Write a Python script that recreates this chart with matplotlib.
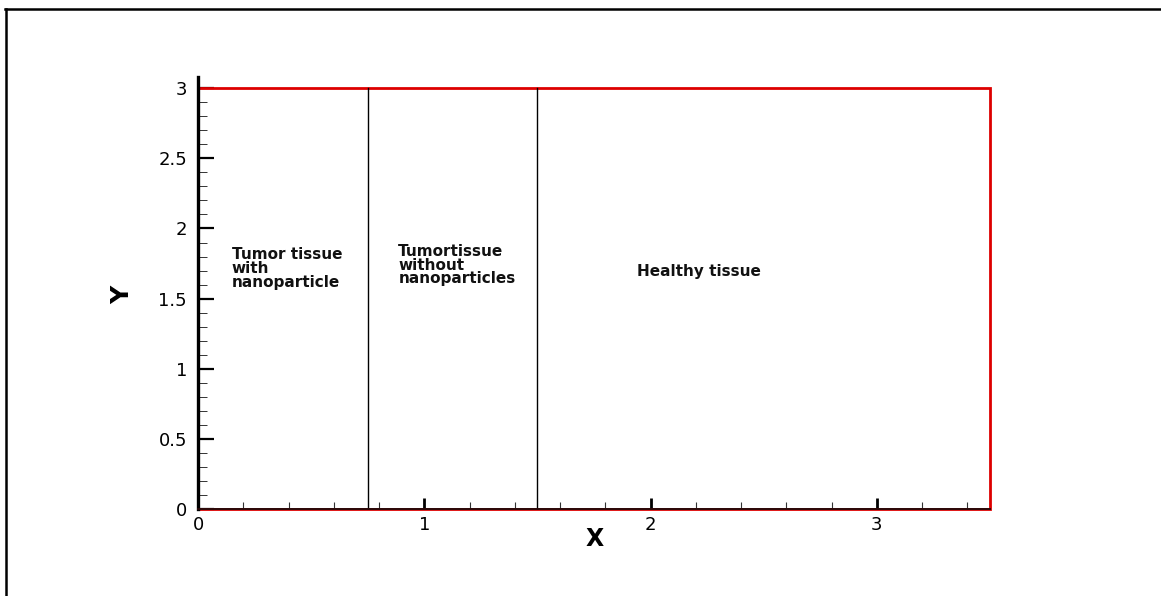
import matplotlib
matplotlib.use("Agg")
import matplotlib.pyplot as plt
from matplotlib.ticker import MultipleLocator, FuncFormatter
from matplotlib.lines import Line2D

# Computational domain outline (tissue block)
domain_x = [0.0, 3.5, 3.5, 0.0, 0.0]
domain_y = [0.0, 0.0, 3.0, 3.0, 0.0]

# Interfaces between tissue regions along x
interface_x = [0.75, 1.5]
interface_y = [0.0, 3.0]

# Region names
region_labels = [
    "Tumor tissue\nwith\nnanoparticle",
    "Tumortissue\nwithout\nnanoparticles",
    "Healthy tissue",
]
region_anchor_x = [0.15, 0.885, 1.94]
region_anchor_y = [1.714, 1.739, 1.69]

x_label = "X"
y_label = "Y"

fig = plt.figure(figsize=(11.61, 5.96), dpi=100)
ax = fig.add_axes([198 / 1161, 87 / 596, (990 - 198) / 1161, (509 - 77) / 596])

ax.set_xlim(0, 3.5)
ax.set_ylim(0, 3.08)

# red boundary of the domain
ax.plot(domain_x, domain_y, color="#dd0000", lw=2.0, clip_on=False, zorder=2,
        solid_joinstyle="miter")

# interface lines
for xi in interface_x:
    ax.plot([xi, xi], interface_y, color="black", lw=1.0, zorder=2)

for txt, tx, ty in zip(region_labels, region_anchor_x, region_anchor_y):
    ax.text(tx, ty, txt, ha="left", va="center", fontsize=11,
            fontweight="bold", family="DejaVu Sans", linespacing=0.9,
            color="#111111")

for side in ("top", "right"):
    ax.spines[side].set_visible(False)
ax.spines["left"].set_linewidth(2.4)
ax.spines["bottom"].set_linewidth(1.4)
ax.spines["bottom"].set_color("#2a0a0a")
ax.spines["left"].set_zorder(3)
ax.spines["bottom"].set_zorder(3)

ax.xaxis.set_major_locator(MultipleLocator(1))
ax.xaxis.set_minor_locator(MultipleLocator(0.2))
ax.yaxis.set_major_locator(MultipleLocator(0.5))
ax.yaxis.set_minor_locator(MultipleLocator(0.1))
fmt = FuncFormatter(lambda v, p: f"{v:g}")
ax.xaxis.set_major_formatter(fmt)
ax.yaxis.set_major_formatter(fmt)

ax.tick_params(axis="y", which="major", direction="in", length=11.5, width=1.6,
               pad=8, labelsize=13, left=True, right=False)
ax.tick_params(axis="y", which="minor", direction="in", length=6.5, width=0.7,
               left=True, right=False, color="#333333")
ax.tick_params(axis="x", which="major", direction="in", length=8, width=2.0,
               pad=5, labelsize=13, bottom=True, top=False)
ax.tick_params(axis="x", which="minor", direction="in", length=5, width=0.8,
               bottom=True, top=False, color="#333333")

ax.text(0.501, -0.069, x_label, transform=ax.transAxes, ha="center", va="center",
        fontsize=17, fontweight="bold")
ax.text(-0.0953, 0.495, y_label, transform=ax.transAxes, ha="center", va="center",
        rotation=90, fontsize=18, fontweight="bold")

# page frame lines
fig.add_artist(Line2D([5 / 1161, 1.0], [1 - 9 / 596, 1 - 9 / 596],
                      transform=fig.transFigure, color="black", lw=1.8))
fig.add_artist(Line2D([6 / 1161, 6 / 1161], [0.0, 1 - 9 / 596],
                      transform=fig.transFigure, color="black", lw=1.8))

fig.savefig("out.png", dpi=100, facecolor="white")
